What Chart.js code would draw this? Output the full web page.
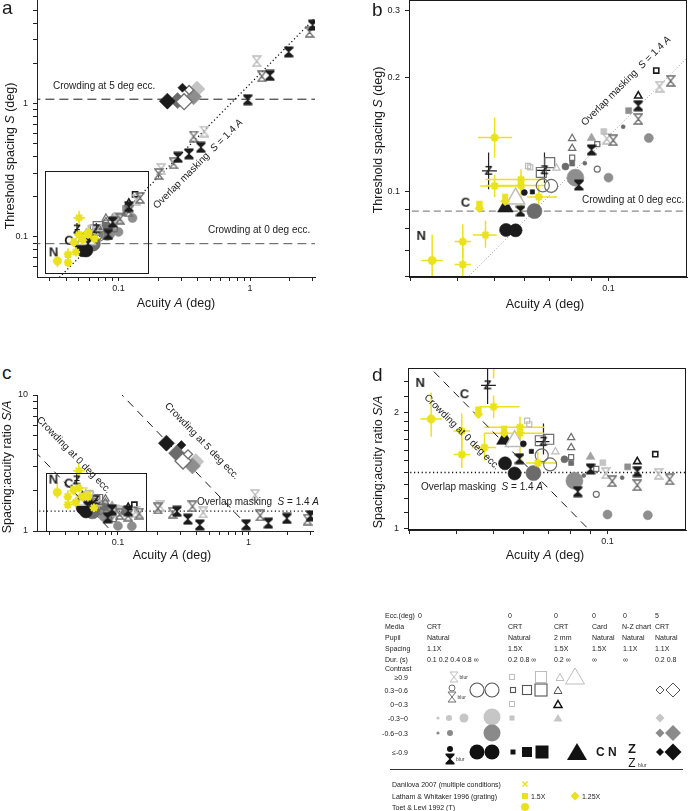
<!DOCTYPE html>
<html><head><meta charset="utf-8"><title>Crowding and acuity</title>
<script src="https://cdn.jsdelivr.net/npm/chart.js@4.4.1/dist/chart.umd.min.js"></script>
<style>
html,body{margin:0;padding:0;background:#fff;}
body{width:689px;height:811px;position:relative;overflow:hidden;font-family:"Liberation Sans",Arial,Helvetica,sans-serif;color:#1a1a1a;}
canvas{position:absolute;}
.t{position:absolute;white-space:nowrap;line-height:1;}
.c{transform:translate(-50%,-50%);}
.l{transform:translate(0,-50%);}
.r{transform:translate(-100%,-50%);}
.pl{font-size:19px;}
.at{font-size:12.5px;}
.an{font-size:10px;color:#222;}
.lg{font-size:7px;color:#222;}
svg{position:absolute;left:0;top:0;}
</style></head><body>
<canvas id="cvA"></canvas><canvas id="cvB"></canvas><canvas id="cvC"></canvas><canvas id="cvD"></canvas>

<!-- panel letters -->
<div class="t pl" style="left:2px;top:-2px">a</div>
<div class="t pl" style="left:372px;top:0px">b</div>
<div class="t pl" style="left:2px;top:363px">c</div>
<div class="t pl" style="left:372px;top:365px">d</div>

<!-- axis titles -->
<div class="t at" style="left:10px;top:156px;transform:translate(-50%,-50%) rotate(-90deg)">Threshold spacing <i>S</i> (deg)</div>
<div class="t at c" style="left:176px;top:303px">Acuity <i>A</i> (deg)</div>
<div class="t at" style="left:378px;top:140px;transform:translate(-50%,-50%) rotate(-90deg)">Threshold spacing <i>S</i> (deg)</div>
<div class="t at c" style="left:545px;top:304px">Acuity <i>A</i> (deg)</div>
<div class="t at" style="left:7px;top:467px;transform:translate(-50%,-50%) rotate(-90deg)">Spacing:acuity ratio <i>S/A</i></div>
<div class="t at c" style="left:172px;top:555px">Acuity <i>A</i> (deg)</div>
<div class="t at" style="left:378px;top:462px;transform:translate(-50%,-50%) rotate(-90deg)">Spacing:acuity ratio <i>S/A</i></div>
<div class="t at c" style="left:545px;top:555px">Acuity <i>A</i> (deg)</div>

<!-- annotations -->
<div class="t an l" style="left:53px;top:86px">Crowding at 5 deg ecc.</div>
<div class="t an l" style="left:208px;top:230px">Crowding at 0 deg ecc.</div>
<div class="t an" style="left:198px;top:164px;transform:translate(-50%,-50%) rotate(-45deg)">Overlap masking&nbsp;&nbsp;<i>S</i> = 1.4 <i>A</i></div>
<div class="t an" style="left:626px;top:81px;transform:translate(-50%,-50%) rotate(-45deg)">Overlap masking&nbsp;&nbsp;<i>S</i> = 1.4 <i>A</i></div>
<div class="t an l" style="left:582px;top:200px">Crowding at 0 deg ecc.</div>
<div class="t an" style="left:74px;top:455px;transform:translate(-50%,-50%) rotate(46deg)">Crowding at 0 deg ecc.</div>
<div class="t an" style="left:202px;top:441px;transform:translate(-50%,-50%) rotate(46deg)">Crowding at 5 deg ecc.</div>
<div class="t an l" style="left:197px;top:502px">Overlap masking&nbsp;&nbsp;<i>S</i> = 1.4 <i>A</i></div>
<div class="t an" style="left:462px;top:432px;transform:translate(-50%,-50%) rotate(45deg)">Crowding at 0 deg ecc.</div>
<div class="t an l" style="left:421px;top:487px">Overlap masking&nbsp;&nbsp;<i>S</i> = 1.4 <i>A</i></div>

<!-- legend table -->
<svg width="689" height="811" xmlns="http://www.w3.org/2000/svg">
<defs>
<path id="hgO" d="M-4,-5H4L0,0L4,5H-4L0,0Z"/>
<path id="hgF" d="M-4.5,-5.5H4.5V-4L0.7,0L4.5,4V5.5H-4.5V4L-0.7,0L-4.5,-4Z"/>
</defs>
<g font-family="Liberation Sans, Arial" font-size="5" fill="#333">
<!-- >=0.9 -->
<use href="#hgO" x="454" y="677" fill="none" stroke="#bdbdbd" stroke-width="1"/><text x="459.5" y="679">blur</text>
<rect x="509.5" y="674.5" width="5" height="5" fill="none" stroke="#bdbdbd"/>
<rect x="535.5" y="671.5" width="11" height="11" fill="none" stroke="#bdbdbd"/>
<path d="M560,673.5L564,680.5L556,680.5Z" fill="none" stroke="#bdbdbd"/>
<path d="M575,668L584.5,684L565.5,684Z" fill="none" stroke="#bdbdbd"/>
<!-- 0.3~0.6 -->
<circle cx="452" cy="688" r="3" fill="none" stroke="#6e6e6e"/>
<use href="#hgO" x="452" y="697" fill="none" stroke="#6e6e6e" stroke-width="1"/><text x="457.5" y="699">blur</text>
<circle cx="477" cy="690" r="7" fill="none" stroke="#555" stroke-width="1.1"/>
<circle cx="492" cy="690" r="7" fill="none" stroke="#555" stroke-width="1.1"/>
<rect x="510.5" y="687.5" width="5" height="5" fill="none" stroke="#555" stroke-width="1.1"/>
<rect x="522.5" y="685.5" width="9" height="9" fill="none" stroke="#555" stroke-width="1.1"/>
<rect x="535" y="684" width="12" height="12" fill="none" stroke="#555" stroke-width="1.1"/>
<path d="M558,686.5L562,693.5L554,693.5Z" fill="none" stroke="#555"/>
<path d="M660,686L664,690L660,694L656,690Z" fill="none" stroke="#555"/>
<path d="M673,683L680,690L673,697L666,690Z" fill="none" stroke="#555"/>
<!-- 0~0.3 -->
<rect x="509.5" y="701.5" width="5" height="5" fill="none" stroke="#bdbdbd"/>
<path d="M558,700.5L562,707.5L554,707.5Z" fill="none" stroke="#111" stroke-width="1.5"/>
<!-- -0.3~0 -->
<circle cx="438" cy="718" r="1.6" fill="#c6c6c6"/>
<circle cx="449" cy="718" r="3" fill="#c6c6c6"/>
<circle cx="464" cy="718" r="4.5" fill="#c6c6c6"/>
<circle cx="492" cy="717" r="8.5" fill="#c6c6c6"/>
<rect x="509.5" y="715.5" width="5" height="5" fill="#c6c6c6"/>
<path d="M558,714L562.5,721.5L553.5,721.5Z" fill="#c6c6c6"/>
<path d="M660,713.5L664.5,718L660,722.5L655.5,718Z" fill="#c6c6c6"/>
<!-- -0.6~-0.3 -->
<circle cx="438" cy="733" r="1.6" fill="#8a8a8a"/>
<circle cx="450" cy="733" r="3" fill="#8a8a8a"/>
<circle cx="492" cy="733" r="8.5" fill="#8a8a8a"/>
<path d="M660,728.5L664.5,733L660,737.5L655.5,733Z" fill="#8a8a8a"/>
<path d="M673,725L681,733L673,741L665,733Z" fill="#8a8a8a"/>
<!-- <=-0.9 -->
<circle cx="450" cy="749" r="3" fill="#111"/>
<use href="#hgF" x="450" y="759" fill="#111"/><text x="456" y="761">blur</text>
<circle cx="477" cy="752" r="7.5" fill="#111"/>
<circle cx="492" cy="752" r="7.5" fill="#111"/>
<rect x="510.5" y="749.5" width="5" height="5" fill="#111"/>
<rect x="522" y="747" width="10" height="10" fill="#111"/>
<rect x="535.5" y="745.5" width="13" height="13" fill="#111"/>
<path d="M577,743L587,760L567,760Z" fill="#111"/>
<path d="M660,748L664,752L660,756L656,752Z" fill="#111"/>
<path d="M673,743.5L681.5,752L673,760.5L664.5,752Z" fill="#111"/>
<text x="638" y="767">blur</text>
<!-- separator -->
<path d="M390,769.5H683" stroke="#333" stroke-width="1"/>
<!-- literature -->
<path d="M522.5,781.5L527.5,786.5M527.5,781.5L522.5,786.5" stroke="#ebe21e" stroke-width="1.5"/>
<rect x="522" y="793" width="6" height="6" fill="#ebe21e"/>
<path d="M575,791.5L579.5,796L575,800.5L570.5,796Z" fill="#ebe21e"/>
<circle cx="525" cy="807" r="4" fill="#ebe21e"/>
</g>
</svg>
<div class="t lg l" style="left:385px;top:615px">Ecc.(deg)</div>
<div class="t lg l" style="left:385px;top:626px">Media</div>
<div class="t lg l" style="left:385px;top:637px">Pupil</div>
<div class="t lg l" style="left:385px;top:648px">Spacing</div>
<div class="t lg l" style="left:385px;top:659px">Dur. (s)</div>
<div class="t lg l" style="left:385px;top:668px">Contrast</div>
<div class="t lg l" style="left:418px;top:615px">0</div>
<div class="t lg l" style="left:427px;top:626px">CRT</div>
<div class="t lg l" style="left:427px;top:637px">Natural</div>
<div class="t lg l" style="left:427px;top:648px">1.1X</div>
<div class="t lg l" style="left:427px;top:659px">0.1 0.2 0.4 0.8 ∞</div>
<div class="t lg l" style="left:508px;top:615px">0</div>
<div class="t lg l" style="left:508px;top:626px">CRT</div>
<div class="t lg l" style="left:508px;top:637px">Natural</div>
<div class="t lg l" style="left:508px;top:648px">1.5X</div>
<div class="t lg l" style="left:508px;top:659px">0.2 0.8 ∞</div>
<div class="t lg l" style="left:554px;top:615px">0</div>
<div class="t lg l" style="left:554px;top:626px">CRT</div>
<div class="t lg l" style="left:554px;top:637px">2 mm</div>
<div class="t lg l" style="left:554px;top:648px">1.5X</div>
<div class="t lg l" style="left:554px;top:659px">0.2 ∞</div>
<div class="t lg l" style="left:592px;top:615px">0</div>
<div class="t lg l" style="left:592px;top:626px">Card</div>
<div class="t lg l" style="left:592px;top:637px">Natural</div>
<div class="t lg l" style="left:592px;top:648px">1.5X</div>
<div class="t lg l" style="left:592px;top:659px">∞</div>
<div class="t lg l" style="left:623px;top:615px">0</div>
<div class="t lg l" style="left:622px;top:626px">N-Z chart</div>
<div class="t lg l" style="left:622px;top:637px">Natural</div>
<div class="t lg l" style="left:623px;top:648px">1.1X</div>
<div class="t lg l" style="left:623px;top:659px">∞</div>
<div class="t lg l" style="left:655px;top:615px">5</div>
<div class="t lg l" style="left:655px;top:626px">CRT</div>
<div class="t lg l" style="left:655px;top:637px">Natural</div>
<div class="t lg l" style="left:655px;top:648px">1.1X</div>
<div class="t lg l" style="left:655px;top:659px">0.2 0.8</div>
<div class="t lg r" style="left:408px;top:677px">≥0.9</div>
<div class="t lg r" style="left:408px;top:690px">0.3~0.6</div>
<div class="t lg r" style="left:408px;top:704px">0~0.3</div>
<div class="t lg r" style="left:408px;top:718px">-0.3~0</div>
<div class="t lg r" style="left:408px;top:733px">-0.6~0.3</div>
<div class="t lg r" style="left:408px;top:752px">≤-0.9</div>
<div class="t l" style="left:596px;top:752px;font-size:12px;font-weight:bold">C N</div>
<div class="t c" style="left:632px;top:748px;font-size:13px;font-weight:bold">Z</div>
<div class="t c" style="left:632px;top:763px;font-size:12px">Z</div>
<div class="t lg l" style="left:392px;top:784px">Danilova 2007 (multiple conditions)</div>
<div class="t lg l" style="left:392px;top:796px">Latham &amp; Whitaker 1996 (grating)</div>
<div class="t lg l" style="left:392px;top:807px">Toet &amp; Levi 1992 (T)</div>
<div class="t lg l" style="left:531px;top:796px">1.5X</div>
<div class="t lg l" style="left:582px;top:796px">1.25X</div>

<script>
// ================= DATA: acuity A (deg) and threshold spacing S (deg) =================
// hourglass markers (blurred letters)
const hgBlackA = [0.0586, 0.0835, 0.0902, 0.1198, 0.283, 0.343, 0.423, 0.959, 1.417, 1.964, 2.985];
const hgBlackS = [0.089, 0.1043, 0.129, 0.1686, 0.395, 0.419, 0.469, 1.066, 1.62, 2.43, 3.86];
const hgGrayA = [0.1029, 0.1198, 0.1458, 0.202, 0.262, 0.372, 1.227, 2.83];
const hgGrayS = [0.1368, 0.1555, 0.196, 0.296, 0.356, 0.565, 1.596, 3.43];
const hgLightA = [0.099, 0.1363, 0.211, 0.449, 1.123];
const hgLightS = [0.138, 0.1893, 0.323, 0.616, 2.07];
// circles
const circBlackBigA = [0.0537, 0.0569], circBlackBigS = [0.0794, 0.0792];
const circBlackSmallA = [0.0600], circBlackSmallS = [0.0996];
const circDarkBigA = [0.0638], circDarkBigS = [0.089];
const circDarkMedA = [0.0770], circDarkMedS = [0.1166];
const circDarkSmallA = [0.0866, 0.1093], circDarkSmallS = [0.119, 0.1484];
const circMidBigA = [0.0818], circMidBigS = [0.109];
const circMidMedA = [0.100, 0.1277], circMidMedS = [0.109, 0.1386];
const circOpenBigA = [0.0671, 0.0706], circOpenBigS = [0.104, 0.1037];
const circOpenSmallA = [0.0934], circOpenSmallS = [0.1148];
// squares
const sqOpenBlackA = [0.1336], sqOpenBlackS = [0.2086];
const sqOpenGrayA = [0.0802, 0.0934], sqOpenGrayS = [0.123, 0.1336];
const sqOpenGrayBigA = [0.0665, 0.0700], sqOpenGrayBigS = [0.1125, 0.1194];
const sqOpenLightA = [0.0622, 0.0614], sqOpenLightS = [0.116, 0.117];
const sqDarkA = [0.0802], sqDarkS = [0.1188];
const sqMidA = [0.113], sqMidS = [0.1636];
const sqLightA = [0.0972], sqLightS = [0.1442];
const sqBlackA = [0.063], sqBlackS = [0.100];
// triangles
const triOpenGrayA = [0.0802, 0.0802], triOpenGrayS = [0.1382, 0.1302];
const triOpenBlackA = [0.1198], triOpenBlackS = [0.179];
const triOpenLightA = [0.0729], triOpenLightS = [0.1155];
const triLightA = [0.0902], triLightS = [0.1386];
const triBlackBigA = [0.0535], triBlackBigS = [0.091];
const triOpenLightBigA = [0.0569], triOpenLightBigS = [0.096];
// diamonds (5 deg eccentricity)
const dmBlackBigA = [0.235], dmBlackBigS = [1.04];
const dmDarkBigA = [0.281], dmDarkBigS = [1.05];
const dmBlackSmallA = [0.306], dmBlackSmallS = [1.31];
const dmOpenBigA = [0.315], dmOpenBigS = [1.03];
const dmOpenSmallA = [0.344], dmOpenSmallS = [1.26];
const dmMidBigA = [0.372], dmMidBigS = [1.12];
const dmLightBigA = [0.395], dmLightBigS = [1.28];
// letters
const letCA = [0.042], letCS = [0.0937];
const letNA = [0.0321], letNS = [0.0766];
const letZA = [0.0483, 0.0678], letZS = [0.1136, 0.114];
const letZAlo = [0.0464, 0.0648], letZAhi = [0.0508, 0.0703];
const letZSlo = [0.1016, 0.1057], letZShi = [0.127, 0.127];
// literature
const danA = [0.0501, 0.0413, 0.0413, 0.0474, 0.0501, 0.0588, 0.0655, 0.0588];
const danS = [0.139, 0.074, 0.0644, 0.077, 0.1037, 0.1078, 0.097, 0.104];
const danAlo = [0.0453, 0.0393, 0.0393, 0.0439, 0.0459, 0.0474, 0.0610, 0.0474];
const danAhi = [0.0557, 0.0434, 0.0434, 0.0508, 0.0586, 0.0682, 0.0732, 0.068];
const danSlo = [0.123, 0.067, 0.0594, 0.0713, 0.097, 0.0873, 0.0909, 0.101];
const danShi = [0.157, 0.0822, 0.0713, 0.0839, 0.111, 0.1148, 0.1037, 0.107];
const lathSqA = [0.0457, 0.0534], lathSqS = [0.093, 0.097];
const lathDmA = [0.0457, 0.0534], lathDmS = [0.0905, 0.0945];
const toetA = [0.0343], toetS = [0.066];
const toetAlo = [0.0321], toetAhi = [0.0366], toetSlo = [0.0594], toetShi = [0.0773];
// reference lines
const overlapK = 1.4;      // S = 1.4 A
const crowd0 = 0.089;      // crowding spacing at 0 deg ecc.
const crowd5 = 1.075;      // crowding spacing at 5 deg ecc.
// axis ranges & labelled ticks
const xRangeWide = [0.024, 3.115], yRangeA = [0.0501, 5.95], yRangeC = [1, 10];
const xRangeZoom = [0.0298, 0.161], yRangeB = [0.0597, 0.320], yRangeD = [0.994, 2.608];
const labWide = [0.1, 1], labA = [0.1, 1], labB = [0.1, 0.2, 0.3], labZoomX = [0.1], labC = [1, 10], labD = [1, 2];
const minorD = [1, 1.1, 1.2, 1.3, 1.4, 1.5, 1.6, 1.7, 1.8, 1.9, 2, 2.2, 2.4];
const insetA = [0.0278, 0.168, 0.0534, 0.311];
const insetC = [0.028, 0.163, 1, 2.67];

// ================= STYLES =================
const FONT = '"Liberation Sans", Arial, Helvetica, sans-serif';
const C = {black:'#1b1b1b', dark:'#6b6b6b', mid:'#8e8e8e', tri:'#a2a2a2', light:'#c4c4c4', outG:'#6e6e6e', outL:'#bcbcbc', yel:'#ebe21e'};
function mk(w,h,f){const c=document.createElement('canvas');c.width=w;c.height=h;f(c.getContext('2d'));return c;}
const IMG = {
  hgBlack: mk(10,12,g=>{g.fillStyle=C.black;g.beginPath();g.moveTo(0.5,0.5);g.lineTo(9.5,0.5);g.lineTo(9.5,2.5);g.lineTo(5.6,6);g.lineTo(9.5,9.5);g.lineTo(9.5,11.5);g.lineTo(0.5,11.5);g.lineTo(0.5,9.5);g.lineTo(4.4,6);g.lineTo(0.5,2.5);g.closePath();g.fill();}),
  hgGray: mk(10,12,g=>{g.strokeStyle=C.outG;g.lineWidth=1.3;g.beginPath();g.moveTo(1,1);g.lineTo(9,1);g.lineTo(5,6);g.lineTo(9,11);g.lineTo(1,11);g.lineTo(5,6);g.closePath();g.stroke();}),
  hgLight: mk(10,12,g=>{g.strokeStyle=C.outL;g.lineWidth=1.3;g.beginPath();g.moveTo(1,1);g.lineTo(9,1);g.lineTo(5,6);g.lineTo(9,11);g.lineTo(1,11);g.lineTo(5,6);g.closePath();g.stroke();}),
};
const letter = ch => mk(14,16,g=>{g.fillStyle=C.black;g.font='bold 13px '+FONT;g.textAlign='center';g.textBaseline='middle';g.fillText(ch,7,8.5);});
IMG.C = letter('C'); IMG.N = letter('N'); IMG.Z = letter('Z');

const ST = {
  hgBlack:{ps:IMG.hgBlack,r:5,o:2}, hgGray:{ps:IMG.hgGray,r:5,o:2}, hgLight:{ps:IMG.hgLight,r:5,o:2},
  circBlackBig:{ps:'circle',r:6.5,bg:C.black,o:10}, circBlackSmall:{ps:'circle',r:3,bg:C.black,o:3},
  circDarkBig:{ps:'circle',r:7.5,bg:C.dark,o:10}, circDarkMed:{ps:'circle',r:3.5,bg:C.dark,o:4},
  circDarkSmall:{ps:'circle',r:2,bg:C.dark,o:3}, circMidBig:{ps:'circle',r:8.5,bg:C.mid,o:11},
  circMidMed:{ps:'circle',r:4.5,bg:C.mid,o:5},
  circOpenBig:{ps:'circle',r:6.5,bc:C.outG,bw:1.2,o:9}, circOpenSmall:{ps:'circle',r:3,bc:C.outG,bw:1.2,o:3},
  sqOpenBlack:{ps:'rect',r:3.6,bc:C.black,bw:1.6,o:3}, sqOpenGray:{ps:'rect',r:3.6,bc:C.outG,bw:1.2,o:3},
  sqOpenGrayBig:{ps:'rect',r:7,bc:C.outG,bw:1.2,o:8}, sqOpenLight:{ps:'rect',r:3.6,bc:C.outL,bw:1.2,o:3},
  sqDark:{ps:'rect',r:3.6,bg:C.dark,o:3}, sqMid:{ps:'rect',r:4.2,bg:C.mid,o:3}, sqLight:{ps:'rect',r:4.2,bg:C.light,o:3},
  sqBlack:{ps:'rect',r:3,bg:C.black,o:3},
  triOpenGray:{ps:'triangle',r:4.2,bc:C.outG,bw:1.2,o:3}, triOpenBlack:{ps:'triangle',r:4.2,bc:C.black,bw:1.6,o:3},
  triOpenLight:{ps:'triangle',r:4.2,bc:C.outL,bw:1.2,o:3}, triLight:{ps:'triangle',r:5,bg:C.tri,o:3},
  triBlackBig:{ps:'triangle',r:9,bg:C.black,o:9}, triOpenLightBig:{ps:'triangle',r:10.5,bc:C.outL,bw:1.5,fill:'#fff',o:8},
  dmBlackBig:{ps:'rectRot',r:8,bg:C.black,o:8}, dmDarkBig:{ps:'rectRot',r:8,bg:C.dark,o:8},
  dmBlackSmall:{ps:'rectRot',r:4.5,bg:C.black,o:4}, dmOpenBig:{ps:'rectRot',r:8,bc:C.outG,bw:1.3,fill:'#fff',o:7},
  dmOpenSmall:{ps:'rectRot',r:4.5,bc:C.outG,bw:1.3,fill:'#fff',o:4}, dmMidBig:{ps:'rectRot',r:8,bg:C.mid,o:8},
  dmLightBig:{ps:'rectRot',r:8,bg:C.light,o:8},
  letC:{ps:IMG.C,r:5,o:1}, letN:{ps:IMG.N,r:5,o:1}, letZ:{ps:IMG.Z,r:5,o:1},
  dan:{ps:'star',r:4.2,bc:C.yel,bw:2.2,o:0}, lathSq:{ps:'rect',r:4,bg:C.yel,o:0},
  lathDm:{ps:'rectRot',r:4.5,bg:C.yel,o:0}, toet:{ps:'circle',r:4.2,bg:C.yel,o:0},
};

const SERIES = [
  [hgBlackA,hgBlackS,'hgBlack'],[hgGrayA,hgGrayS,'hgGray'],[hgLightA,hgLightS,'hgLight'],
  [circBlackBigA,circBlackBigS,'circBlackBig'],[circBlackSmallA,circBlackSmallS,'circBlackSmall'],
  [circDarkBigA,circDarkBigS,'circDarkBig'],[circDarkMedA,circDarkMedS,'circDarkMed'],
  [circDarkSmallA,circDarkSmallS,'circDarkSmall'],[circMidBigA,circMidBigS,'circMidBig'],
  [circMidMedA,circMidMedS,'circMidMed'],[circOpenBigA,circOpenBigS,'circOpenBig'],
  [circOpenSmallA,circOpenSmallS,'circOpenSmall'],
  [sqOpenBlackA,sqOpenBlackS,'sqOpenBlack'],[sqOpenGrayA,sqOpenGrayS,'sqOpenGray'],
  [sqOpenGrayBigA,sqOpenGrayBigS,'sqOpenGrayBig'],[sqOpenLightA,sqOpenLightS,'sqOpenLight'],
  [sqDarkA,sqDarkS,'sqDark'],[sqMidA,sqMidS,'sqMid'],[sqLightA,sqLightS,'sqLight'],[sqBlackA,sqBlackS,'sqBlack'],
  [triOpenGrayA,triOpenGrayS,'triOpenGray'],[triOpenBlackA,triOpenBlackS,'triOpenBlack'],
  [triOpenLightA,triOpenLightS,'triOpenLight'],[triLightA,triLightS,'triLight'],
  [triBlackBigA,triBlackBigS,'triBlackBig'],[triOpenLightBigA,triOpenLightBigS,'triOpenLightBig'],
  [dmBlackBigA,dmBlackBigS,'dmBlackBig'],[dmDarkBigA,dmDarkBigS,'dmDarkBig'],[dmBlackSmallA,dmBlackSmallS,'dmBlackSmall'],
  [dmOpenBigA,dmOpenBigS,'dmOpenBig'],[dmOpenSmallA,dmOpenSmallS,'dmOpenSmall'],
  [dmMidBigA,dmMidBigS,'dmMidBig'],[dmLightBigA,dmLightBigS,'dmLightBig'],
  [letCA,letCS,'letC'],[letNA,letNS,'letN'],
  [letZA,letZS,'letZ',{aLo:letZAlo,aHi:letZAhi,sLo:letZSlo,sHi:letZShi,color:'#222',width:1.2}],
  [danA,danS,'dan',{aLo:danAlo,aHi:danAhi,sLo:danSlo,sHi:danShi,color:'#ebe21e',width:1.5}],
  [lathSqA,lathSqS,'lathSq'],[lathDmA,lathDmS,'lathDm'],
  [toetA,toetS,'toet',{aLo:toetAlo,aHi:toetAhi,sLo:toetSlo,sHi:toetShi,color:'#ebe21e',width:1.5}],
];

function pointDs(A,S,key,ratio,err){
  const st = ST[key];
  const d = {
    data: A.map((a,i)=>({x:a, y: ratio ? S[i]/a : S[i]})),
    pointStyle: st.ps, pointRadius: st.r, pointHoverRadius: st.r,
    pointBackgroundColor: st.bg || st.fill || 'rgba(0,0,0,0)',
    pointBorderColor: st.bc || st.bg || '#000',
    pointBorderWidth: st.bw !== undefined ? st.bw : 0.6,
    showLine:false, order: st.o
  };
  if (err) d.errbar = Object.assign({A, S}, err);
  return d;
}
function lineDs(pts,color,dash,w){
  return {data:pts, showLine:true, borderColor:color, borderDash:dash, borderWidth:w, pointRadius:0, pointHoverRadius:0, fill:false, order:50};
}

// plugin: error bars, frames and inset rectangles
const deco = {
  id:'deco',
  beforeDatasetsDraw(chart,args,o){
    const {ctx,chartArea:a,scales:{x,y}} = chart;
    ctx.save(); ctx.beginPath(); ctx.rect(a.left,a.top,a.right-a.left,a.bottom-a.top); ctx.clip();
    for (const ds of chart.data.datasets){
      const e = ds.errbar; if (!e) continue;
      ctx.strokeStyle = e.color; ctx.lineWidth = e.width;
      e.A.forEach((av,i)=>{
        const k = o.ratio ? av : 1;
        const xc = x.getPixelForValue(av), yc = y.getPixelForValue(e.S[i]/k);
        ctx.beginPath();
        ctx.moveTo(x.getPixelForValue(e.aLo[i]), yc); ctx.lineTo(x.getPixelForValue(e.aHi[i]), yc);
        ctx.moveTo(xc, y.getPixelForValue(e.sLo[i]/k)); ctx.lineTo(xc, y.getPixelForValue(e.sHi[i]/k));
        ctx.stroke();
      });
    }
    ctx.restore();
  },
  afterDatasetsDraw(chart,args,o){
    const {ctx,chartArea:a,scales:{x,y}} = chart;
    ctx.save(); ctx.strokeStyle = '#1a1a1a'; ctx.lineWidth = 1;
    if (o.frame) ctx.strokeRect(Math.round(a.left)+0.5, Math.round(a.top)+0.5, Math.round(a.right-a.left)-1, Math.round(a.bottom-a.top)-1);
    if (o.rect){
      const [x0,x1,y0,y1] = o.rect;
      const px0 = Math.round(x.getPixelForValue(x0))+0.5, px1 = Math.round(x.getPixelForValue(x1))+0.5;
      const py0 = Math.round(y.getPixelForValue(y0))+0.5, py1 = Math.round(y.getPixelForValue(y1))+0.5;
      ctx.strokeRect(px0, py1, px1-px0, py0-py1);
    }
    ctx.restore();
  }
};
Chart.register(deco);

function logTicks(min,max,extra){
  if (extra) return extra.filter(v=>v>=min*0.999 && v<=max*1.001);
  const out = [];
  for (let e=-3; e<=2; e++) for (let m=1; m<=9; m++){
    const v = +(m*Math.pow(10,e)).toPrecision(3);
    if (v>=min*0.999 && v<=max*1.001) out.push(v);
  }
  return out;
}
function axis(range,labels,fitProp,fitVal,pad,minorList){
  const ticks = logTicks(range[0],range[1],minorList);
  return {
    type:'logarithmic', min:range[0], max:range[1],
    afterFit(s){ s[fitProp] = fitVal; },
    afterBuildTicks(s){ s.ticks = ticks.map(v=>({value:v})); },
    ticks:{autoSkip:false, maxRotation:0, minRotation:0, padding:pad, color:'#222', font:{size:9, family:FONT},
      callback:(v)=> labels.includes(+(+v).toPrecision(3)) ? String(+(+v).toPrecision(3)) : ''},
    grid:{display:true, drawOnChartArea:false, drawTicks:true, tickLength:4, color:'#222', lineWidth:1},
    border:{display:true, color:'#222', width:1}
  };
}

function panel(cfg){
  const padT = 12, padR = 12;
  const cv = document.getElementById(cfg.id);
  const left = cfg.L - cfg.yW, top = cfg.T - padT;
  const w = cfg.R + padR - left, h = cfg.B + cfg.xH - top;
  cv.width = w; cv.height = h;
  Object.assign(cv.style,{left:left+'px', top:top+'px', width:w+'px', height:h+'px'});
  const datasets = SERIES.map(s=>pointDs(s[0],s[1],s[2],cfg.ratio,s[3])).concat(cfg.lines);
  new Chart(cv,{
    type:'scatter',
    data:{datasets},
    options:{
      responsive:false, animation:false, devicePixelRatio:1, events:[],
      layout:{padding:{top:padT,right:padR,left:0,bottom:0}},
      plugins:{legend:{display:false}, tooltip:{enabled:false}, deco:{frame:cfg.frame, rect:cfg.inset, ratio:cfg.ratio}},
      scales:{
        x: axis(cfg.xr, cfg.xl, 'height', cfg.xH, 2),
        y: axis(cfg.yr, cfg.yl, 'width', cfg.yW, 5, cfg.yMinor)
      }
    }
  });
}

const LO = 0.005, HI = 20;
panel({id:'cvA', L:37, T:0, R:315, B:277, yW:37, xH:32, xr:xRangeWide, yr:yRangeA, xl:labWide, yl:labA,
  ratio:false, frame:false, inset:insetA,
  lines:[
    lineDs([{x:LO,y:overlapK*LO},{x:HI,y:overlapK*HI}], '#111', [1.2,2.6], 1.3),
    lineDs([{x:LO,y:crowd5},{x:HI,y:crowd5}], '#1a1a1a', [9,5], 1),
    lineDs([{x:LO,y:crowd0},{x:HI,y:crowd0}], '#555', [9,5], 1)
  ]});
panel({id:'cvB', L:409, T:0, R:687, B:277, yW:40, xH:32, xr:xRangeZoom, yr:yRangeB, xl:labZoomX, yl:labB,
  ratio:false, frame:true, inset:null,
  lines:[
    lineDs([{x:LO,y:overlapK*LO},{x:HI,y:overlapK*HI}], '#9a9a9a', [1,2], 1),
    lineDs([{x:LO,y:crowd0},{x:HI,y:crowd0}], '#8a8a8a', [7,4], 1.1)
  ]});
panel({id:'cvC', L:37, T:395, R:313, B:531, yW:37, xH:32, xr:xRangeWide, yr:yRangeC, xl:labWide, yl:labC,
  ratio:true, frame:false, inset:insetC,
  lines:[
    lineDs([{x:LO,y:overlapK},{x:HI,y:overlapK}], '#111', [1.2,2.6], 1.3),
    lineDs([{x:crowd0/50,y:50},{x:crowd0/0.5,y:0.5}], '#1a1a1a', [8,6], 1),
    lineDs([{x:crowd5/50,y:50},{x:crowd5/0.5,y:0.5}], '#1a1a1a', [8,6], 1)
  ]});
panel({id:'cvD', L:408, T:368, R:686, B:530, yW:40, xH:32, xr:xRangeZoom, yr:yRangeD, xl:labZoomX, yl:labD, yMinor:minorD,
  ratio:true, frame:true, inset:null,
  lines:[
    lineDs([{x:LO,y:overlapK},{x:HI,y:overlapK}], '#111', [1.2,2.6], 1.3),
    lineDs([{x:crowd0/50,y:50},{x:crowd0/0.5,y:0.5}], '#1a1a1a', [8,6], 1)
  ]});
</script>
</body></html>
